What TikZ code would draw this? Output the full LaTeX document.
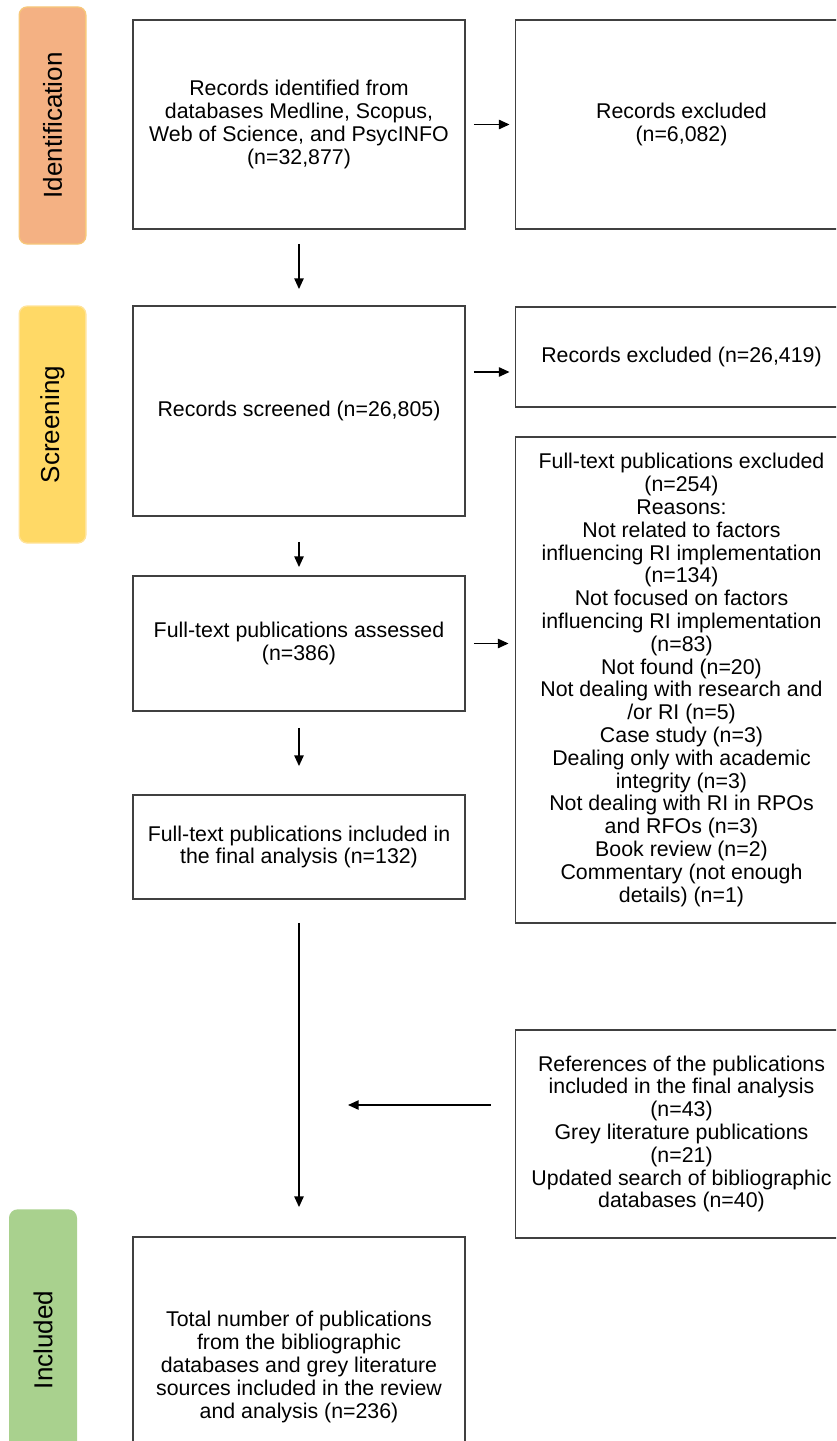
\documentclass[tikz,border=0pt]{standalone}
\usepackage{fontspec}
\setmainfont{Liberation Sans}
\usetikzlibrary{arrows.meta}

\definecolor{tabOrange}{HTML}{F4B183}
\definecolor{tabOrangeLine}{HTML}{F7C77A}
\definecolor{tabYellow}{HTML}{FFD966}
\definecolor{tabYellowLine}{HTML}{FFE39A}
\definecolor{tabGreen}{HTML}{A9D18E}
\definecolor{boxLine}{HTML}{404040}

\tikzset{every picture/.style={line width=0.75pt}}
\tikzset{
  flowbox/.style={draw=boxLine, line width=1.4pt, minimum width=249pt, inner sep=0pt, align=center, font=\fontsize{16}{17.1}\selectfont},
  phasetab/.style={rotate=90, rounded corners=6pt, line width=1pt, minimum width=177.75pt, minimum height=50pt, inner sep=0pt, font=\fontsize{19.5}{22}\selectfont},
  flowarrow/.style={line width=1.1pt, -{Triangle[length=8pt,width=7pt]}},
}

\begin{document}
\begin{tikzpicture}[x=0.75pt,y=0.75pt,yscale=-1,xscale=1]
        \useasboundingbox (0,0) rectangle (836,1441);
        \clip (0,0) rectangle (836,1441);

        % Phase tabs
        \node [phasetab, fill=tabOrange, draw=tabOrangeLine] (tabId) at (52.5,125.5) {Identification};
        \node [phasetab, fill=tabYellow, draw=tabYellowLine] (tabScr) at (52.5,424.5) {Screening};
        \node [phasetab, fill=tabGreen, draw=tabGreen, minimum width=195pt] (tabInc) at (43,1340) {Included};

        % Left column
        \node [flowbox, minimum height=156.75pt] (identified) at (299,124.5) {Records identified from\\databases Medline, Scopus,\\Web of Science, and PsycINFO\\(n=32,877)};
        \node [flowbox, minimum height=157.5pt] (screened) at (299,411) {Records screened (n=26,805)};
        \node [flowbox, minimum height=101.25pt] (assessed) at (299,643.5) {Full-text publications assessed\\(n=386)};
        \node [flowbox, minimum height=78pt] (included) at (299,847) {Full-text publications included in\\the final analysis (n=132)};
        \node [flowbox, minimum height=195pt] (total) at (299,1367) {Total number of publications\\from the bibliographic\\databases and grey literature\\sources included in the review\\and analysis (n=236)};

        % Right column
        \node [flowbox, minimum height=156.75pt] (excl1) at (681.5,124.5) {Records excluded\\(n=6,082)};
        \node [flowbox, minimum height=75pt] (excl2) at (681.5,357) {Records excluded (n=26,419)};
        \node [flowbox, minimum height=364.5pt] (excl3) at (681.5,680) {Full-text publications excluded\\(n=254)\\Reasons:\\Not related to factors\\influencing RI implementation\\(n=134)\\Not focused on factors\\influencing RI implementation\\(n=83)\\Not found (n=20)\\Not dealing with research and\\/or RI (n=5)\\Case study (n=3)\\Dealing only with academic\\integrity (n=3)\\Not dealing with RI in RPOs\\and RFOs (n=3)\\Book review (n=2)\\Commentary (not enough\\details) (n=1)};
        \node [flowbox, minimum height=156pt] (other) at (681.5,1134) {References of the publications\\included in the final analysis\\(n=43)\\Grey literature publications\\(n=21)\\Updated search of bibliographic\\databases (n=40)};

        \coordinate (rowScr) at (490,372);
        \coordinate (merge) at (348,1105);

        % Arrows
        \draw [flowarrow, shorten <=6pt, shorten >=3.75pt] (identified.east) -- (excl1.west);
        \draw [flowarrow, shorten <=6pt, shorten >=3.75pt] (screened.east |- rowScr) -- (excl2.west |- rowScr);
        \draw [flowarrow, shorten <=6pt, shorten >=4.5pt] (assessed.east) -- (assessed.east -| excl3.west);
        \draw [flowarrow, shorten <=10.5pt, shorten >=12pt] (identified.south) -- (screened.north);
        \draw [flowarrow, shorten <=18.75pt, shorten >=6pt] (screened.south) -- (assessed.north);
        \draw [flowarrow, shorten <=12pt, shorten >=21pt] (assessed.south) -- (included.north);
        \draw [flowarrow, shorten <=17.25pt, shorten >=21.75pt] (included.south) -- (total.north);
        \draw [flowarrow, shorten <=18pt] (other.west |- merge) -- (merge);

\end{tikzpicture}
\end{document}
